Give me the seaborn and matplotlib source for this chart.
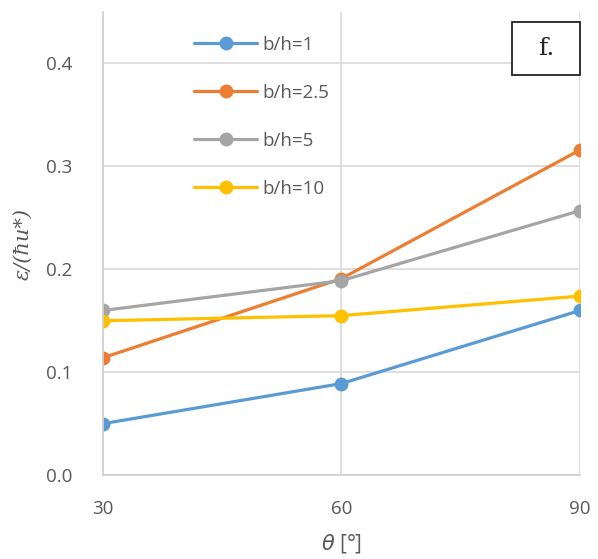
import pandas as pd
import numpy as np
import matplotlib.pyplot as plt
import matplotlib.patches as mpatches
import seaborn as sns

# --- data ---
theta = [30, 60, 90]
series_names = ['b/h=1', 'b/h=2.5', 'b/h=5', 'b/h=10']
eps_bh1 = [0.050, 0.089, 0.160]
eps_bh25 = [0.114, 0.191, 0.316]
eps_bh5 = [0.160, 0.189, 0.257]
eps_bh10 = [0.150, 0.155, 0.174]
colors = ['#5B9BD5', '#ED7D31', '#A5A5A5', '#FFC000']

df = pd.DataFrame({
    'theta': theta * 4,
    'eps': eps_bh1 + eps_bh25 + eps_bh5 + eps_bh10,
    'series': np.repeat(series_names, len(theta)),
})

sns.set_theme(style='white')
plt.rcParams['font.family'] = ['Open Sans', 'DejaVu Sans']

fig = plt.figure(figsize=(5.98, 5.59), dpi=100)
ax = fig.add_axes([0.172, 0.150, 0.798, 0.8285])

sns.lineplot(data=df, x='theta', y='eps', hue='series', hue_order=series_names,
             palette=colors, marker='o', markersize=10, markeredgewidth=0,
             linewidth=2.3, ax=ax)

ax.set_xlim(30, 90)
ax.set_ylim(0, 0.45)
ax.set_xticks([30, 60, 90])
ax.set_yticks([0.0, 0.1, 0.2, 0.3, 0.4])
ax.set_yticklabels(['0.0', '0.1', '0.2', '0.3', '0.4'])
ax.tick_params(axis='both', colors='#595959', labelsize=13.5, length=0)
ax.tick_params(axis='x', pad=18)
ax.tick_params(axis='y', pad=22)
ax.grid(True, color='#D9D9D9', linewidth=1.2)
ax.set_axisbelow(True)
for s in ['top', 'right']:
    ax.spines[s].set_visible(False)
for s in ['left', 'bottom']:
    ax.spines[s].set_color('#D0D0D0')
    ax.spines[s].set_linewidth(1.2)

ax.set_xlabel(r'$\theta$ [°]', fontsize=15, color='#595959', labelpad=10)
ax.set_ylabel('ε/(ħu*)', fontsize=15, color='#595959', family='DejaVu Serif',
              style='italic', labelpad=10)

leg = ax.legend(loc='upper left', bbox_to_anchor=(0.155, 0.985), frameon=False,
                fontsize=13.5, labelspacing=1.6, handlelength=3.4, handletextpad=0.25,
                labelcolor='#595959')

# panel tag box
box = mpatches.Rectangle((0.857, 0.864), 0.143, 0.114, transform=ax.transAxes,
                         facecolor='white', edgecolor='#222222', linewidth=1.3,
                         clip_on=False, zorder=5)
ax.add_patch(box)
ax.text(0.9285, 0.921, 'f.', transform=ax.transAxes, ha='center', va='center',
        fontsize=18, family='DejaVu Serif', zorder=6)

fig.savefig('out.png', dpi=100)
